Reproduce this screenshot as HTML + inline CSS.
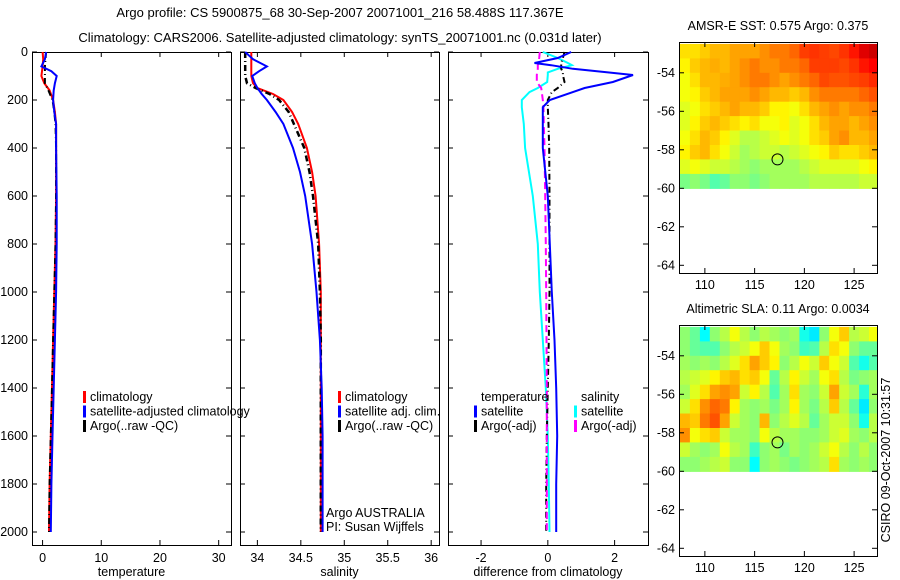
<!DOCTYPE html>
<html><head><meta charset="utf-8"><style>
body{margin:0;background:#fff;}
svg{display:block;font-family:"Liberation Sans",sans-serif;font-size:12.5px;}
</style></head><body>
<svg id="c" width="900" height="580" xmlns="http://www.w3.org/2000/svg">
<text x="340" y="17" text-anchor="middle" font-size="13">Argo profile: CS 5900875_68 30-Sep-2007 20071001_216 58.488S 117.367E</text>
<text x="340" y="42" text-anchor="middle" font-size="13">Climatology: CARS2006. Satellite-adjusted climatology: synTS_20071001.nc (0.031d later)</text>
<g id="g"></g>
</svg>
<script>
// ---------- profile data ----------
const tDepth=[0,30,60,80,100,130,160,200,250,300,400,600,800,1000,1200,1400,1600,1800,2000];
const tClim=[0.0,0.1,0.0,-0.1,-0.2,0.3,1.2,1.8,2.1,2.3,2.3,2.3,2.2,2.0,1.8,1.6,1.4,1.2,1.1];
const tSat=[0.6,0.4,-0.2,1.5,2.4,2.1,1.9,1.8,2.0,2.3,2.3,2.4,2.4,2.3,2.1,1.9,1.7,1.5,1.4];
const tArgo=[0.6,0.5,0.4,0.4,0.4,0.4,1.0,1.7,2.0,2.2,2.3,2.3,2.2,2.0,1.8,1.6,1.4,1.2,1.1];
const sDepth=[0,30,60,80,100,130,150,175,200,250,300,400,500,600,800,1000,1200,1400,1600,2000];
const sClim=[33.93,33.93,33.93,33.93,33.93,33.95,34.0,34.18,34.30,34.40,34.47,34.57,34.63,34.67,34.71,34.73,34.73,34.73,34.73,34.73];
const sSat=[33.86,33.95,34.11,34.02,33.94,33.97,34.0,34.05,34.11,34.21,34.30,34.41,34.49,34.55,34.63,34.68,34.72,34.74,34.75,34.75];
const sArgo=[33.86,33.86,33.86,33.86,33.86,33.88,33.98,34.14,34.25,34.36,34.42,34.54,34.60,34.64,34.70,34.72,34.73,34.73,34.73,34.73];
const dDepth=[0,25,46,55,70,85,96,125,150,167,200,230,300,400,600,800,1000,1200,1400,1600,1800,2000];
const dTsat=[0.7,0.3,-0.4,0.1,0.75,1.8,2.55,1.95,1.1,0.75,0.06,-0.15,-0.15,-0.15,0.0,0.06,0.12,0.2,0.25,0.28,0.25,0.25];
const dSsat=[-0.15,0.3,0.6,0.72,0.3,0.0,0.0,-0.02,-0.3,-0.55,-0.78,-0.78,-0.72,-0.68,-0.45,-0.3,-0.24,-0.15,-0.06,0.0,0.03,0.05];
const dTargo=[0.5,0.45,0.4,0.4,0.4,0.45,0.45,0.5,0.3,0.12,0.0,0.0,0.02,0.04,0.05,0.05,0.05,0.03,0.0,-0.03,-0.05,-0.05];
const dSargo=[-0.24,-0.26,-0.28,-0.3,-0.3,-0.32,-0.33,-0.33,-0.2,-0.18,-0.15,-0.13,-0.12,-0.1,-0.08,-0.06,-0.05,-0.04,-0.03,-0.03,-0.03,-0.03];
const depthTicks=[0,200,400,600,800,1000,1200,1400,1600,1800,2000];
const tTicks=[0,10,20,30];
const sTicks=[34,34.5,35,35.5,36];
const dTicks=[-2,0,2];
// ---------- map data (rows -52.5 -> -60, cols 107.5 -> 127.5) ----------
const mapLats=[-52.5,-53.25,-54,-54.75,-55.5,-56.25,-57,-57.75,-58.5,-59.25,-60];
const mapLons=[107.5,108.5,109.5,110.5,111.5,112.5,113.5,114.5,115.5,116.5,117.5,118.5,119.5,120.5,121.5,122.5,123.5,124.5,125.5,126.5,127.5];
const sst=[
[0.70,0.70,0.72,0.74,0.74,0.76,0.76,0.76,0.78,0.80,0.80,0.82,0.86,0.87,0.86,0.85,0.87,0.90,0.95,0.97],
[0.68,0.72,0.74,0.75,0.74,0.76,0.78,0.80,0.78,0.78,0.80,0.80,0.82,0.86,0.86,0.86,0.85,0.87,0.90,0.92],
[0.66,0.70,0.74,0.74,0.75,0.76,0.78,0.80,0.80,0.78,0.76,0.78,0.80,0.82,0.85,0.84,0.84,0.85,0.86,0.88],
[0.66,0.68,0.72,0.74,0.76,0.76,0.76,0.78,0.76,0.74,0.74,0.72,0.74,0.78,0.80,0.80,0.80,0.80,0.82,0.84],
[0.64,0.66,0.70,0.72,0.74,0.76,0.74,0.74,0.72,0.68,0.68,0.66,0.70,0.74,0.76,0.78,0.76,0.78,0.78,0.80],
[0.64,0.68,0.72,0.74,0.72,0.70,0.68,0.70,0.66,0.66,0.68,0.64,0.66,0.70,0.74,0.76,0.76,0.74,0.76,0.78],
[0.66,0.70,0.74,0.72,0.68,0.64,0.60,0.60,0.62,0.64,0.66,0.64,0.66,0.70,0.72,0.76,0.78,0.74,0.74,0.76],
[0.68,0.72,0.74,0.70,0.66,0.62,0.58,0.60,0.62,0.62,0.60,0.62,0.64,0.66,0.68,0.72,0.70,0.70,0.72,0.74],
[0.64,0.66,0.64,0.62,0.62,0.60,0.58,0.56,0.58,0.58,0.58,0.58,0.60,0.62,0.64,0.64,0.64,0.64,0.66,0.68],
[0.54,0.56,0.54,0.50,0.52,0.56,0.56,0.54,0.56,0.58,0.58,0.58,0.58,0.60,0.60,0.60,0.60,0.60,0.62,0.62]];
const sla=[
[0.56,0.52,0.42,0.56,0.60,0.66,0.60,0.56,0.60,0.58,0.56,0.58,0.44,0.40,0.56,0.66,0.72,0.60,0.62,0.66],
[0.56,0.52,0.50,0.50,0.56,0.60,0.62,0.66,0.72,0.66,0.58,0.56,0.48,0.50,0.60,0.70,0.66,0.56,0.52,0.52],
[0.58,0.56,0.58,0.56,0.60,0.64,0.70,0.76,0.72,0.68,0.56,0.60,0.66,0.62,0.72,0.66,0.62,0.50,0.44,0.50],
[0.60,0.62,0.64,0.68,0.72,0.74,0.70,0.72,0.66,0.52,0.60,0.68,0.62,0.58,0.66,0.70,0.60,0.54,0.56,0.58],
[0.58,0.64,0.70,0.76,0.78,0.76,0.62,0.68,0.60,0.50,0.58,0.70,0.58,0.56,0.62,0.76,0.62,0.58,0.46,0.58],
[0.62,0.70,0.78,0.82,0.80,0.68,0.58,0.56,0.58,0.54,0.58,0.68,0.58,0.54,0.60,0.72,0.60,0.52,0.40,0.56],
[0.74,0.72,0.80,0.84,0.76,0.62,0.58,0.56,0.74,0.56,0.60,0.64,0.60,0.52,0.58,0.62,0.62,0.56,0.44,0.60],
[0.78,0.66,0.70,0.72,0.62,0.58,0.58,0.56,0.66,0.60,0.58,0.58,0.56,0.56,0.58,0.62,0.64,0.58,0.56,0.60],
[0.62,0.58,0.56,0.58,0.66,0.60,0.58,0.48,0.56,0.58,0.54,0.58,0.56,0.58,0.62,0.66,0.60,0.56,0.60,0.56],
[0.56,0.56,0.58,0.60,0.62,0.56,0.56,0.42,0.56,0.58,0.56,0.54,0.56,0.58,0.60,0.70,0.58,0.56,0.58,0.56]];
const latTicks=[-54,-56,-58,-60,-62,-64];
const lonTicks=[110,115,120,125];
const argoPos=[117.3,-58.5];

const NS='http://www.w3.org/2000/svg';
const G=document.getElementById('g');
function mk(tag,attrs,parent){const e=document.createElementNS(NS,tag);for(const k in attrs)e.setAttribute(k,attrs[k]);(parent||G).appendChild(e);return e;}
function txt(x,y,s,anchor,parent){const e=mk('text',{x:x,y:y,'text-anchor':anchor||'start'},parent);e.textContent=s;return e;}

const TOP=52,BOT=545;
const yD=d=>TOP+d*0.24;
function panel(name,x0,x1,v0,v1,ticks,label,showY){
  const g=mk('g',{});
  
  
  const sx=v=>x0+(v-v0)/(v1-v0)*(x1-x0);
  mk('rect',{x:x0+0.5,y:TOP+0.5,width:x1-x0,height:BOT-TOP,fill:'none',stroke:'#000'},g);
  for(const t of ticks){const x=sx(t);
    mk('line',{x1:x,x2:x,y1:BOT,y2:BOT-5,stroke:'#000'},g);
    mk('line',{x1:x,x2:x,y1:TOP,y2:TOP+5,stroke:'#000'},g);
    const l=txt(x,562,String(t),'middle',g);
    
    }
  for(const d of depthTicks){const y=yD(d);
    mk('line',{x1:x0,x2:x0+5,y1:y,y2:y,stroke:'#000'},g);
    mk('line',{x1:x1,x2:x1-5,y1:y,y2:y,stroke:'#000'},g);
    if(showY){const l=txt(28,y+4,String(d),'end',g);
      
      }}
  const al=txt((x0+x1)/2,576,label,'middle',g);
  
  
  return {g,sx};
}
function line(p,depths,vals,color,dash,name,w){
  const pts=depths.map((d,i)=>p.sx(vals[i]).toFixed(1)+','+yD(d).toFixed(1)).join(' ');
  const e=mk('polyline',{points:pts,fill:'none',stroke:color,'stroke-width':w||2,'stroke-dasharray':dash||'none'},p.g);
  
  
}
function legend(g,x,items,prefix){
  items.forEach((it,i)=>{const y=401+i*14.5;
    if(it[1]){const b=mk('rect',{x:x,y:y-10,width:3,height:12,fill:it[1]},g);
      
      }
    const t=txt(x+7,y,it[0],'start',g);
    
    });
}
// Temperature
const P1=panel('temperature',32,231,-1.8,32.1,tTicks,'temperature',true);
line(P1,tDepth,tClim,'#f00',null,'temp-climatology-line');
line(P1,tDepth,tArgo,'#000','6,3,1,3','temp-argo-line');
line(P1,tDepth,tSat,'#00f',null,'temp-satellite-line');
legend(P1.g,83,[['climatology','#f00'],['satellite-adjusted climatology','#00f'],['Argo(..raw -QC)','#000']],'temp');
// Salinity
const P2=panel('salinity',240,439,33.8,36.09,sTicks,'salinity',false);
line(P2,sDepth,sClim,'#f00',null,'sal-climatology-line');
line(P2,sDepth,sArgo,'#000','6,3,1,3','sal-argo-line',2.5);
line(P2,sDepth,sSat,'#00f',null,'sal-satellite-line');
legend(P2.g,338,[['climatology','#f00'],['satellite adj. clim.','#00f'],['Argo(..raw -QC)','#000']],'sal');
let t1=txt(326,517,'Argo AUSTRALIA','start',P2.g);
let t2=txt(326,531,'PI: Susan Wijffels','start',P2.g);
// Difference
const P3=panel('difference',448,648,-2.99,3.0,dTicks,'difference from climatology',false);
line(P3,dDepth,dSsat,'#0ff',null,'diff-sal-satellite-line');
line(P3,dDepth,dTargo,'#000','6,3,1,3','diff-temp-argo-line');
line(P3,dDepth,dSargo,'#f0f','7,4','diff-sal-argo-line');
line(P3,dDepth,dTsat,'#00f',null,'diff-temp-satellite-line');
legend(P3.g,474,[['temperature',null],['satellite','#00f'],['Argo(-adj)','#000']],'diff-temp');
legend(P3.g,574,[['salinity',null],['satellite','#0ff'],['Argo(-adj)','#f0f']],'diff-sal');
// ---------- maps ----------
const CSHIFT=0.045; // colour-scale offset
function jet(v){v=v-CSHIFT;const c=x=>Math.round(255*Math.max(0,Math.min(1,x)));
  return `rgb(${c(1.5-Math.abs(4*v-3))},${c(1.5-Math.abs(4*v-2))},${c(1.5-Math.abs(4*v-1))})`;}
function map(name,top,grid,title){
  const x0=679,x1=877,bot=top+231,lat0=-52.4,lat1=-64.4,lon0=107.4,lon1=127.3;
  const g=mk('g',{});
  
  
  const sx=l=>x0+(l-lon0)/(lon1-lon0)*(x1-x0);
  const sy=l=>top+(l-lat0)/(lat1-lat0)*(bot-top);
  const cp=mk('clipPath',{id:name+'clip'},g);
  mk('rect',{x:x0,y:top,width:x1-x0,height:bot-top},cp);
  const cells=mk('g',{'clip-path':`url(#${name}clip)`},g);
  grid.forEach((row,i)=>row.forEach((v,j)=>{
    const xa=sx(mapLons[j]),xb=sx(mapLons[j+1]),ya=sy(mapLats[i]),yb=sy(mapLats[i+1]);
    const r=mk('rect',{x:xa.toFixed(1),y:ya.toFixed(1),width:(xb-xa+0.6).toFixed(1),height:(yb-ya+0.6).toFixed(1),fill:jet(v)},cells);
    
    
  }));
  mk('rect',{x:x0+0.5,y:top+0.5,width:x1-x0,height:bot-top,fill:'none',stroke:'#000'},g);
  for(const l of latTicks){const y=sy(l);
    mk('line',{x1:x0,x2:x0+5,y1:y,y2:y,stroke:'#000'},g);
    mk('line',{x1:x1,x2:x1-5,y1:y,y2:y,stroke:'#000'},g);
    const t=txt(675,y+4,String(l),'end',g);
    
    }
  for(const l of lonTicks){const x=sx(l);
    mk('line',{x1:x,x2:x,y1:bot,y2:bot-5,stroke:'#000'},g);
    mk('line',{x1:x,x2:x,y1:top,y2:top+5,stroke:'#000'},g);
    const t=txt(x,bot+16,String(l),'middle',g);
    
    }
  const c=mk('circle',{cx:sx(argoPos[0]),cy:sy(argoPos[1]),r:5.5,fill:'none',stroke:'#000'},g);
  
  
  const tt=txt(778,top-12,title,'middle',g);
  
  
}
map('sst',42,sst,'AMSR-E SST: 0.575 Argo: 0.375');
map('sla',325,sla,'Altimetric SLA: 0.11 Argo: 0.0034');
const cs=txt(0,0,'CSIRO 09-Oct-2007 10:31:57','middle');
cs.setAttribute('transform','translate(890,460) rotate(-90)');


</script>
</body></html>
